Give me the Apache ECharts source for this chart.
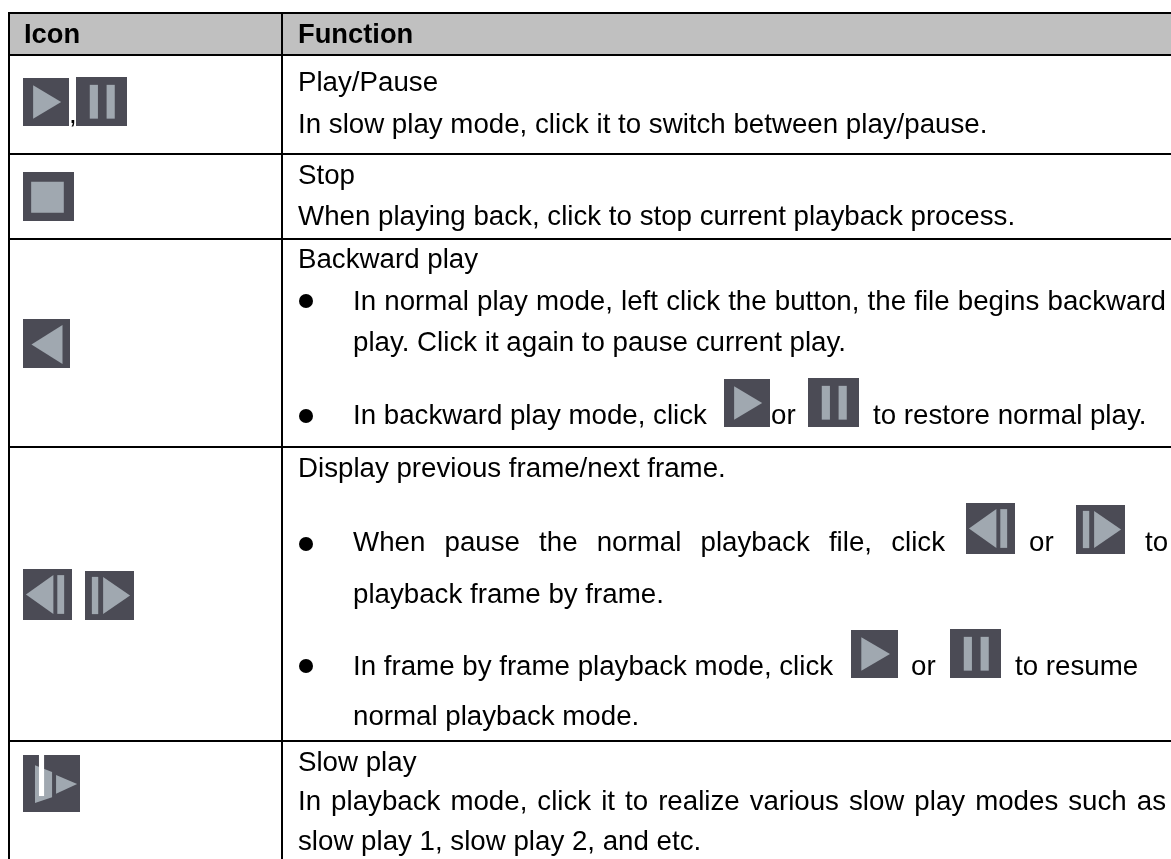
<!DOCTYPE html>
<html><head><meta charset="utf-8">
<style>html,body{margin:0;padding:0;background:#fff}#c{width:1171px;height:859px}</style>
<script src="https://cdn.jsdelivr.net/npm/echarts@6/dist/echarts.min.js"></script>
</head><body><div id="c"></div>
<script>
const columnHeaders = ['Icon','Function'];
// text, x, baseline y, right justify edge (0 = none)
const textLines = [
 ['Play/Pause',298,93,0],
 ['In slow play mode, click it to switch between play/pause.',298,135,0],
 ['Stop',298,186,0],
 ['When playing back, click to stop current playback process.',298,227,0],
 ['Backward play',298,270,0],
 ['In normal play mode, left click the button, the file begins backward',353,312,1166],
 ['play. Click it again to pause current play.',353,353,0],
 ['In backward play mode, click',353,426,0],
 ['or',771,426,0],
 ['to restore normal play.',873,426,0],
 ['Display previous frame/next frame.',298,479,0],
 ['When pause the normal playback file, click',353,553,945],
 ['or',1029,553,0],
 ['to',1145,553,0],
 ['playback frame by frame.',353,605,0],
 ['In frame by frame playback mode, click',353,677,0],
 ['or',911,677,0],
 ['to resume',1015,677,0],
 ['normal playback mode.',353,727,0],
 ['Slow play',298,773,0],
 ['In playback mode, click it to realize various slow play modes such as',298,812,1166],
 ['slow play 1, slow play 2, and etc.',298,852,0]
];
const bullets = [[306,301],[306,416],[306,544],[306,666]];
// type, x, y, w, h
const icons = [
 ['play',23,78,46,48],['pause',76,77,51,49],
 ['stop',23,172,51,49],
 ['back',23,319,47,49],
 ['prev',23,569,49,51],['next',85,571,49,49],
 ['slow',23,755,57,57],
 ['play',724,379,46,48],['pause',808,378,51,49],
 ['prev',966,503,49,51],['next',1076,505,49,49],
 ['play',851,630,47,48],['pause',950,629,51,49],
];
const hLines = [[9,1171,13],[9,1171,55],[9,1171,154],[9,1171,239],[9,1171,447],[9,1171,741]];
const vLines = [[9,12,859],[282,12,859]];

const BG='#4b4b55', FG='#a0a8b0';
function poly(pts){return {type:'polygon',shape:{points:pts},style:{fill:FG}};}
function rect(x,y,w,h,f){return {type:'rect',shape:{x,y,width:w,height:h},style:{fill:f||FG}};}
function icon(t,x,y,w,h){
  const px=(a,b)=>[x+a*w,y+b*h];
  const out=[rect(x,y,w,h,BG)];
  if(t==='play') out.push(poly([px(.22,.15),px(.83,.5),px(.22,.85)]));
  if(t==='pause') out.push(rect(x+.27*w,y+.16*h,.16*w,.69*h),rect(x+.6*w,y+.16*h,.16*w,.69*h));
  if(t==='stop') out.push(rect(x+.16*w,y+.2*h,.64*w,.63*h));
  if(t==='back') out.push(poly([px(.84,.12),px(.18,.52),px(.84,.92)]));
  if(t==='prev') out.push(poly([px(.06,.5),px(.62,.12),px(.62,.88)]),rect(x+.7*w,y+.12*h,.14*w,.76*h));
  if(t==='next') out.push(rect(x+.14*w,y+.12*h,.13*w,.76*h),poly([px(.37,.12),px(.92,.5),px(.37,.88)]));
  if(t==='slow') out.push(poly([px(.21,.18),px(.51,.3),px(.51,.74),px(.21,.84)]),rect(x+.28*w,y,.09*w,.72*h,'#fff'),poly([px(.58,.35),px(.95,.51),px(.58,.68)]));
  return out;
}
const FAMILY='"Liberation Sans", Arial, sans-serif', SIZE=27.7, HEAD=27.3;
const mc=document.createElement('canvas').getContext('2d');
function txt(s,x,y,w,size){const sz=size||SIZE;return {type:'text',x,y:y-0.3465*sz,style:{text:s,fill:'#000',fontFamily:FAMILY,fontSize:sz,fontWeight:w||'normal',verticalAlign:'middle',align:'left'}};}
const g=[];
g.push(rect(9,13,1162,42,'#c0c0c0'));
g.push(txt(columnHeaders[0],24,45,'bold',HEAD),txt(columnHeaders[1],298,45,'bold',HEAD));
hLines.forEach(l=>g.push({type:'line',shape:{x1:l[0],x2:l[1],y1:l[2],y2:l[2]},style:{stroke:'#000',lineWidth:2}}));
vLines.forEach(l=>g.push({type:'line',shape:{x1:l[0],x2:l[0],y1:l[1],y2:l[2]},style:{stroke:'#000',lineWidth:2}}));
mc.font=SIZE+'px '+FAMILY;
textLines.forEach(([s,x,y,r])=>{
  if(!r){g.push(txt(s,x,y));return;}
  const words=s.split(' ');
  const total=words.reduce((a,w)=>a+mc.measureText(w).width,0);
  const gap=(r-x-total)/(words.length-1);
  let cx=x;
  words.forEach(w=>{g.push(txt(w,cx,y));cx+=mc.measureText(w).width+gap;});
});
bullets.forEach(b=>g.push({type:'circle',shape:{cx:b[0],cy:b[1],r:7},style:{fill:'#000'}}));
g.push(txt(',',69,125));
icons.forEach(i=>g.push(...icon(...i)));
const chart=echarts.init(document.getElementById('c'),null,{renderer:'canvas'});
chart.setOption({animation:false,backgroundColor:'#fff',graphic:{elements:g}});
</script></body></html>
